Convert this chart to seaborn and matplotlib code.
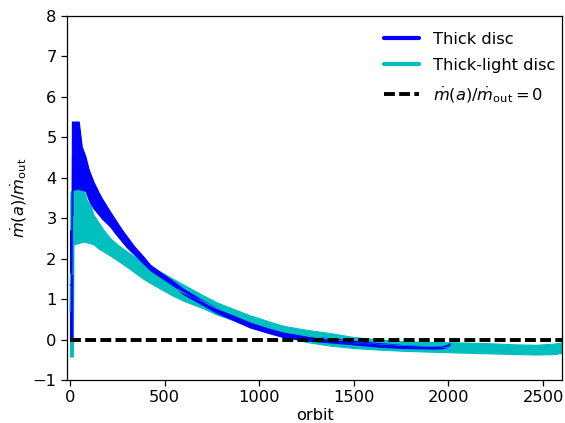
import numpy as np
import pandas as pd
import seaborn as sns
import matplotlib
matplotlib.use("Agg")
import matplotlib.pyplot as plt
from matplotlib.lines import Line2D

# envelope of the noisy accretion-rate curves
orbit_thick = [0, 8, 10, 12, 13, 30, 46, 62, 81, 99, 123, 150, 167, 211, 240, 275, 300, 340,
               388, 423, 476, 537, 600, 700, 775, 850, 950, 1050, 1127, 1250, 1374, 1500,
               1638, 1770, 1903, 1960, 1990, 2005]
thick_hi = [2.70, 2.70, 5.39, 5.39, 5.39, 5.39, 5.39, 4.77, 4.53, 4.20, 3.91, 3.65, 3.50, 3.17,
            2.96, 2.71, 2.55, 2.30, 2.05, 1.85, 1.67, 1.47, 1.25, 0.97, 0.78, 0.62, 0.42, 0.27,
            0.17, 0.08, 0.03, -0.03, -0.09, -0.14, -0.17, -0.17, -0.14, -0.09]
thick_lo = [0.0, 0.0, 0.0, 0.0, 3.70, 3.72, 3.72, 3.70, 3.68, 3.45, 3.25, 3.10, 3.00, 2.80,
            2.62, 2.42, 2.28, 2.10, 1.88, 1.72, 1.55, 1.36, 1.12, 0.86, 0.66, 0.51, 0.30, 0.16,
            0.06, -0.02, -0.07, -0.12, -0.18, -0.21, -0.22, -0.22, -0.19, -0.15]

orbit_light = [0, 2, 15, 18, 70, 90, 106, 123, 150, 176, 211, 250, 300, 388, 423, 476, 537,
               599, 700, 775, 850, 951, 1050, 1127, 1250, 1374, 1500, 1638, 1770, 1903, 2050,
               2202, 2361, 2466, 2560, 2600]
light_hi = [1.80, 3.66, 3.66, 3.74, 3.72, 3.43, 3.35, 3.10, 2.90, 2.72, 2.51, 2.35, 2.18, 1.90,
            1.82, 1.68, 1.52, 1.36, 1.10, 0.92, 0.78, 0.60, 0.45, 0.34, 0.24, 0.16, 0.06, 0.0,
            -0.04, -0.06, -0.07, -0.09, -0.12, -0.13, -0.10, -0.07]
light_lo = [-0.42, -0.42, -0.42, 2.35, 2.42, 2.40, 2.38, 2.36, 2.25, 2.18, 2.08, 1.96, 1.80,
            1.50, 1.40, 1.26, 1.10, 0.96, 0.78, 0.62, 0.50, 0.32, 0.18, 0.08, -0.06, -0.15,
            -0.21, -0.25, -0.28, -0.30, -0.32, -0.34, -0.36, -0.37, -0.36, -0.33]

zero_orbit = [0, 2600]
zero_val = [0, 0]


def long_form(orbit, lo, hi):
    return pd.DataFrame({"orbit": orbit * 2, "mdot": lo + hi})


sns.set_style("ticks", {"axes.edgecolor": "k", "xtick.color": "k", "ytick.color": "k",
                        "text.color": "k", "axes.labelcolor": "k"})
plt.rcParams["font.family"] = ["DejaVu Sans"]
plt.rcParams["mathtext.fontset"] = "dejavusans"
fs = 11.7
dash = (2.8, 1.1)

fig = plt.figure(figsize=(5.65, 4.23), dpi=100)
ax = fig.add_axes([0.1186, 0.1017, 0.8761, 0.8605])

# thick-light disc drawn first, thick disc on top
for orbit, lo, hi, col in [(orbit_light, light_lo, light_hi, "c"),
                           (orbit_thick, thick_lo, thick_hi, "b")]:
    sns.lineplot(data=long_form(orbit, lo, hi), x="orbit", y="mdot", ax=ax,
                 estimator="mean", errorbar=("pi", 100), color=col, linewidth=0.8,
                 err_kws=dict(alpha=1, linewidth=0.8, edgecolor=col, facecolor=col))

sns.lineplot(x=zero_orbit, y=zero_val, ax=ax, color="k", linewidth=2.8)
ax.lines[-1].set_dashes(dash)

ax.set_xlim(-16, 2600)
ax.set_ylim(-1, 8)
ax.set_xticks([0, 500, 1000, 1500, 2000, 2500])
ax.set_yticks(range(-1, 9))
ax.tick_params(labelsize=fs, length=4, width=0.9, direction="out", colors="k")
for s in ax.spines.values():
    s.set_linewidth(0.9)
ax.set_xlabel("orbit", fontsize=fs, labelpad=2)
ax.set_ylabel(r"$\dot{m}(a)/\dot{m}_{\rm out}$", fontsize=fs, labelpad=2.5)

handles = [Line2D([], [], color="b", lw=3),
           Line2D([], [], color="c", lw=3),
           Line2D([], [], color="k", lw=2.8, dashes=dash)]
ax.legend(handles, ["Thick disc", "Thick-light disc", r"$\dot{m}(a)/\dot{m}_{\rm out}=0$"],
          loc="upper right", bbox_to_anchor=(1.0, 0.975), frameon=False, fontsize=fs,
          handlelength=2.2, handletextpad=0.85, borderaxespad=0, labelspacing=0.7)

fig.savefig("out.png", dpi=100)
